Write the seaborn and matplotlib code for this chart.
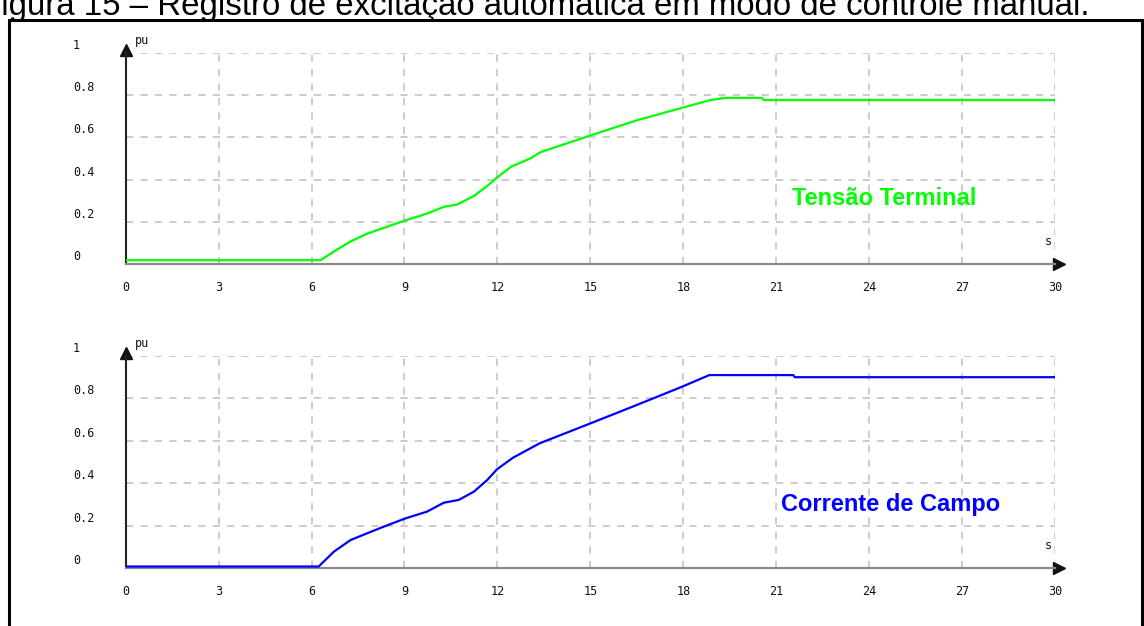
import matplotlib
matplotlib.use("Agg")
import matplotlib.pyplot as plt
import seaborn as sns
import pandas as pd
from matplotlib.transforms import ScaledTranslation
from matplotlib.patches import Rectangle

# ---------------- data ----------------
tensao_t = [0, 6.29, 6.72, 7.26, 7.8, 8.33, 9.03, 9.73, 10.27, 10.7, 11.24, 11.67,
            11.99, 12.45, 13.06, 13.39, 15.0, 16.5, 17.96, 18.87, 19.35, 20.54, 20.6, 30]
tensao_v = [0.018, 0.018, 0.059, 0.107, 0.144, 0.171, 0.207, 0.239, 0.271, 0.282, 0.322, 0.37,
            0.41, 0.462, 0.5, 0.53, 0.609, 0.681, 0.74, 0.777, 0.787, 0.787, 0.777, 0.777]

corrente_t = [0, 6.23, 6.72, 7.26, 7.8, 8.33, 9.03, 9.73, 10.27, 10.75, 11.24, 11.67,
              11.99, 12.5, 13.36, 15.0, 16.5, 17.96, 18.84, 21.55, 21.6, 30]
corrente_v = [0.007, 0.007, 0.077, 0.132, 0.164, 0.195, 0.234, 0.266, 0.308, 0.321, 0.36, 0.415,
              0.466, 0.52, 0.588, 0.682, 0.769, 0.855, 0.91, 0.91, 0.90, 0.90]

x_ticks = [0, 3, 6, 9, 12, 15, 18, 21, 24, 27, 30]
x_tick_labels = ["0", "3", "6", "9", "12", "15", "18", "21", "24", "27", "30"]
y_ticks = [0, 0.2, 0.4, 0.6, 0.8, 1.0]
y_tick_labels = ["0", "0.2", "0.4", "0.6", "0.8", "1"]

caption = "Figura 15 – Registro de excitação automática em modo de controle manual."
label_tensao = "Tensão Terminal"
label_corrente = "Corrente de Campo"
unit_y = "pu"
unit_x = "s"

GREEN = "#00ff00"
BLUE = "#0000ff"

# ---------------- figure ----------------
sns.set_style("white")
plt.rcParams["font.family"] = ["DejaVu Sans Mono", "DejaVu Sans"]

W, H, DPI = 1144, 626, 100
fig = plt.figure(figsize=(W / DPI, H / DPI), dpi=DPI)
fig.patch.set_facecolor("white")


def px_axes(x0, x1, ytop, ybot):
    return fig.add_axes([x0 / W, (H - ybot) / H, (x1 - x0) / W, (ybot - ytop) / H])


def style(ax):
    ax.set_facecolor("white")
    ax.set_xlim(0, 30)
    ax.set_ylim(0, 1)
    ax.set_xticks(x_ticks)
    ax.set_xticklabels(x_tick_labels)
    ax.set_yticks(y_ticks)
    ax.set_yticklabels(y_tick_labels)
    ax.grid(True, color="#c8c8c8", linestyle=(0, (4, 4)), linewidth=1.3)
    ax.set_axisbelow(True)
    ax.set_xlabel("")
    ax.set_ylabel("")
    for s in ["top", "right"]:
        ax.spines[s].set_visible(False)
    ax.spines["left"].set_color("#222222")
    ax.spines["left"].set_linewidth(1.5)
    ax.spines["bottom"].set_color("#8a8a8a")
    ax.spines["bottom"].set_linewidth(1.6)
    ax.tick_params(direction="inout", length=8.5, width=1.2, color="#111111",
                   labelsize=8.5, labelcolor="#111111")
    ax.tick_params(axis="x", pad=8)
    ax.tick_params(axis="y", pad=33.6)
    for lab in ax.get_yticklabels():
        lab.set_horizontalalignment("left")
        lab.set_transform(lab.get_transform() + ScaledTranslation(0, 0.09, fig.dpi_scale_trans))
    # axis arrowheads
    ax.plot([0], [1], marker="^", ms=8, color="#111111", clip_on=False,
            transform=ax.transAxes + ScaledTranslation(0, 0.03, fig.dpi_scale_trans))
    ax.plot([1], [0], marker=">", ms=8, color="#111111", clip_on=False,
            transform=ax.transAxes + ScaledTranslation(0.04, 0, fig.dpi_scale_trans))
    ax.annotate(unit_y, xy=(0, 1), xycoords="axes fraction", xytext=(9.5, 6),
                textcoords="offset pixels", fontsize=8.5, color="#111111",
                ha="left", va="bottom")
    ax.annotate(unit_x, xy=(1, 0), xycoords="axes fraction", xytext=(-6.5, 16),
                textcoords="offset pixels", fontsize=8.5, color="#111111",
                ha="center", va="bottom")


ax1 = px_axes(125.7, 1055, 53, 264)
ax2 = px_axes(125.7, 1055, 356, 568)

df1 = pd.DataFrame({"t": tensao_t, "v": tensao_v})
df2 = pd.DataFrame({"t": corrente_t, "v": corrente_v})

sns.lineplot(data=df1, x="t", y="v", ax=ax1, color=GREEN, linewidth=1.6,
             estimator=None, sort=False, zorder=5)
sns.lineplot(data=df2, x="t", y="v", ax=ax2, color=BLUE, linewidth=1.6,
             estimator=None, sort=False, zorder=5)

style(ax1)
style(ax2)

ax1.text(24.5, 0.311, label_tensao, color=GREEN, fontsize=17, fontweight="bold",
         family=["Liberation Sans", "DejaVu Sans"], ha="center", va="center")
ax2.text(24.7, 0.30, label_corrente, color=BLUE, fontsize=17, fontweight="bold",
         family=["Liberation Sans", "DejaVu Sans"], ha="center", va="center")

# frame around the figure
fig.add_artist(Rectangle((8.7 / W, -20 / H), (1141.5 - 8.7) / W, (H - 20 + 20) / H,
                         transform=fig.transFigure, fill=False, lw=2.2, ec="black"))

# partially cut caption
fig.text(-19 / W, (H - 15) / H, caption, fontsize=23.8,
         family=["Liberation Sans", "DejaVu Sans"], color="black", va="baseline", ha="left")

fig.savefig("out.png", dpi=DPI, facecolor="white")
